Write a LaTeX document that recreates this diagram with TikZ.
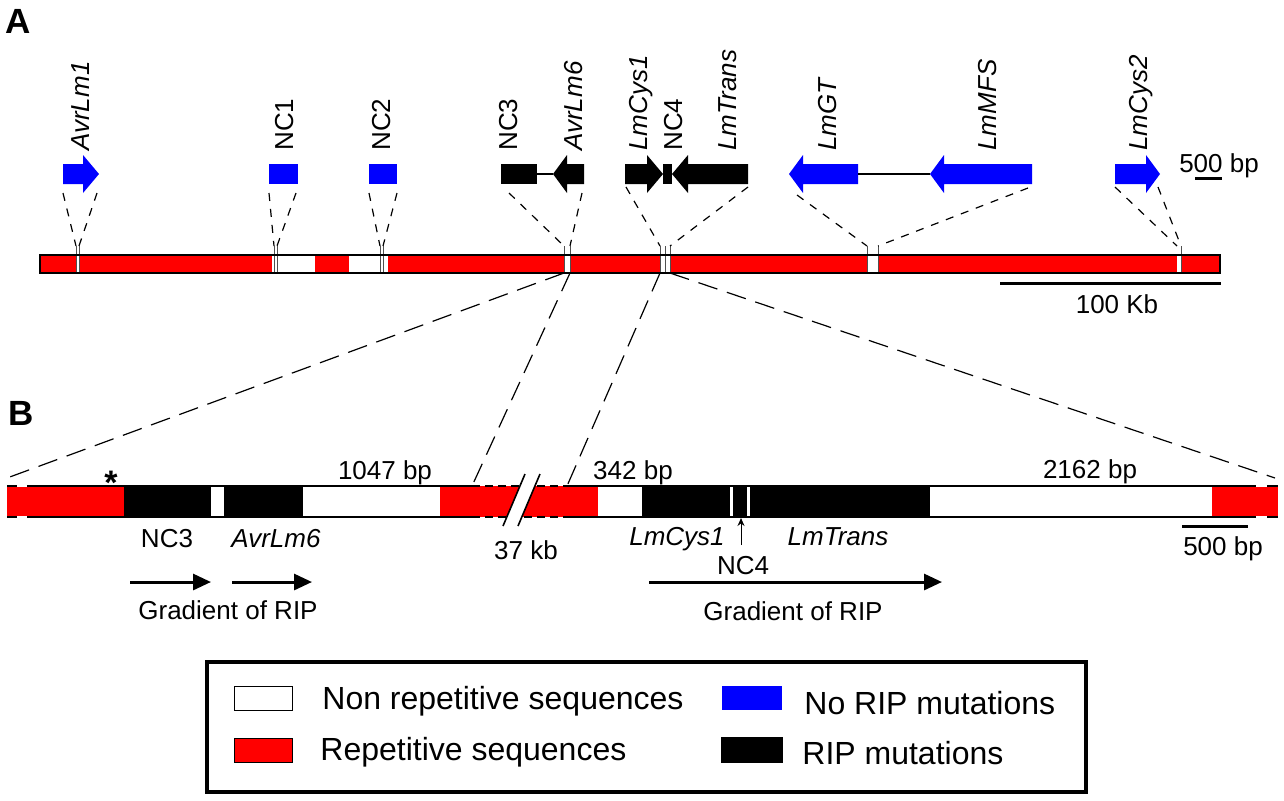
\documentclass[tikz,border=0pt]{standalone}
\usepackage{fontspec}
\setmainfont{Liberation Sans}
\usetikzlibrary{arrows.meta}
\definecolor{rred}{RGB}{255,0,0}
\definecolor{rblue}{RGB}{0,0,255}
\definecolor{mgray}{RGB}{80,80,80}
\newcommand\geneR[4]{\fill[#1] (#2,164) -- (#3,164) -- (#3,155) -- (#4,174) -- (#3,193) -- (#3,184) -- (#2,184) -- cycle;}
\newcommand\geneL[4]{\fill[#1] (#2,174) -- (#3,155) -- (#3,164) -- (#4,164) -- (#4,184) -- (#3,184) -- (#3,193) -- cycle;}
\newcommand\geneB[3]{\fill[#1] (#2,164) rectangle (#3,184);}
\tikzset{
  lbl/.style={font=\fontsize{13}{15}\selectfont, inner sep=0pt, anchor=base},
  ilbl/.style={font=\fontsize{13}{15}\selectfont\itshape, inner sep=0pt, anchor=base},
  vlbl/.style={font=\fontsize{13}{15}\selectfont, inner sep=0pt, rotate=90, anchor=base west},
  ivlbl/.style={font=\fontsize{13}{15}\selectfont\itshape, inner sep=0pt, rotate=90, anchor=base west},
  leg/.style={font=\fontsize{16}{19}\selectfont, inner sep=0pt, anchor=base west},
  panel/.style={font=\fontsize{17.5}{20}\selectfont\bfseries, inner sep=0pt, anchor=base west},
  gdash/.style={line width=0.6pt, dash pattern=on 4pt off 4pt},
  pdash/.style={line width=0.6pt, dash pattern=on 10pt off 5pt},
  mline/.style={mgray, line width=0.5pt},
  grad/.style={line width=1.5pt, -{Triangle[length=9pt,width=8pt]}},
  sbar/.style={line width=1.5pt},
}
\begin{document}
\begin{tikzpicture}[x=0.5pt,y=-0.5pt]
\useasboundingbox (0,0) rectangle (1284,800);
\fill[white] (0,0) rectangle (1284,800);

% ---------------- Panel A ----------------
\node[panel] (lA) at (5,33) {A};

% genes
\geneR{rblue}{63}{83}{99}
\geneB{rblue}{269}{298}
\geneB{rblue}{369}{397}
\geneB{black}{501}{537}
\coordinate (nc3r) at (537,174); \coordinate (av6t) at (553,174);
\draw[line width=1pt] (nc3r) -- (av6t);
\geneL{black}{553}{567}{584}
\geneR{black}{625}{647}{663}
\geneB{black}{663}{672}
\geneL{black}{672}{688}{748}
\geneL{rblue}{789}{803}{858}
\coordinate (gtr) at (858,174); \coordinate (mfst) at (930,174);
\draw[line width=1pt] (gtr) -- (mfst);
\geneL{rblue}{930}{944}{1032}
\geneR{rblue}{1115}{1146}{1160}

% gene labels
\node[ivlbl] (tAvrLm1) at (89,151) {AvrLm1};
\node[vlbl] (tNC1) at (293,151) {NC1};
\node[vlbl] (tNC2) at (390,151) {NC2};
\node[vlbl] (tNC3) at (517,151) {NC3};
\node[ivlbl] (tAvrLm6) at (582,151) {AvrLm6};
\node[ivlbl] (tLmCys1) at (647,151) {LmCys1};
\node[vlbl] (tNC4) at (682,151) {NC4};
\node[ivlbl] (tLmTrans) at (736,151) {LmTrans};
\node[ivlbl] (tLmGT) at (836,151) {LmGT};
\node[ivlbl] (tLmMFS) at (996,151) {LmMFS};
\node[ivlbl] (tLmCys2) at (1147,151) {LmCys2};

% 500 bp scale (A)
\node[lbl] (sA) at (1219,172) {500 bp};
\coordinate (sAa) at (1195,178); \coordinate (sAb) at (1222,178);
\draw[sbar] (sAa) -- (sAb);

% chromosome bar
\fill[rred] (40,255) rectangle (1220,273);
\fill[white] (272,255) rectangle (315,273);
\fill[white] (349,255) rectangle (388,273);
\foreach \a/\b in {76/80, 564/570, 660/670, 867/878, 1177/1181}
  \fill[white] (\a,255) rectangle (\b,273);
\foreach \x in {76,79,274,277,380,383,564,570,660,665,670,867,878,1181}
  \draw[mline] (\x,246) -- (\x,273);

% dashed lines gene -> marker
\foreach \n/\gx/\gy/\mx in {a1/63/193/76, a2/97/193/79, b1/269/193/274, b2/296/193/277,
    c1/369/193/380, c2/397/193/383, d1/509/193/564, d2/582/193/570,
    e1/626/187/660, e2/748/187/670, f1/797/195/867, f2/1028/188/878,
    h1/1115/187/1177, h2/1158/187/1181}{
  \coordinate (g\n) at (\gx,\gy);
  \coordinate (m\n) at (\mx,246);
  \draw[gdash] (g\n) -- (m\n);
}
\draw[line width=0.9pt] (40,255) rectangle (1220,273);

% 100 Kb scale
\coordinate (kA) at (1000,283); \coordinate (kB) at (1221,283);
\draw[sbar] (kA) -- (kB);
\node[lbl] (tKb) at (1117,313) {100 Kb};

% projection lines A -> B
\coordinate (p1a) at (564,273); \coordinate (p1b) at (7,478);
\coordinate (p2a) at (570,273); \coordinate (p2b) at (472,486);
\coordinate (p3a) at (660,273); \coordinate (p3b) at (567,486);
\coordinate (p4a) at (670,273); \coordinate (p4b) at (1275,478);
\draw[pdash] (p1a) -- (p1b);
\draw[pdash] (p2a) -- (p2b);
\draw[pdash] (p3a) -- (p3b);
\draw[pdash] (p4a) -- (p4b);

% ---------------- Panel B ----------------
\node[panel] (lB) at (8,425) {B};

\fill[rred] (7,486) rectangle (124,517);
\fill[black] (124,486) rectangle (211,517);
\fill[black] (224,486) rectangle (303,517);
\fill[rred] (440,486) rectangle (598,517);
\fill[black] (642,486) rectangle (930,517);
\fill[white] (730,486) rectangle (732.5,517);
\fill[white] (747,486) rectangle (749.5,517);
\fill[rred] (1212,486) rectangle (1278,517);
\draw[line width=0.8pt] (7,486) -- (472,486) (567,486) -- (1278,486)
                        (7,517) -- (472,517) (567,517) -- (1278,517);
\draw[line width=0.8pt, dash pattern=on 4pt off 2.5pt] (472,486) -- (567,486) (472,517) -- (567,517);
\draw[white, line width=1.3pt] (17,486) -- (27,486) (17,517) -- (27,517)
                               (1256,486) -- (1267,486) (1256,517) -- (1267,517);
% break
\fill[white] (525,474) -- (540,474) -- (518,526) -- (503,526) -- cycle;
\draw[line width=0.8pt] (525,474) -- (503,526) (540,474) -- (518,526);

% labels B
\node[font=\fontsize{17}{19}\selectfont\bfseries, inner sep=0pt, anchor=base] (ast) at (111,494) {*};
\node[lbl] (t1047) at (385,479) {1047 bp};
\node[lbl] (t342) at (633,479) {342 bp};
\node[lbl] (t2162) at (1090,478) {2162 bp};
\node[lbl] (bNC3) at (167,547) {NC3};
\node[ilbl] (bAvrLm6) at (276,547) {AvrLm6};
\node[lbl] (t37) at (526,559) {37 kb};
\node[ilbl] (bLmCys1) at (677,545) {LmCys1};
\node[ilbl] (bLmTrans) at (838,545) {LmTrans};
\node[lbl] (bNC4) at (743,574) {NC4};
\coordinate (nc4a) at (741,545); \coordinate (nc4b) at (741,518);
\draw[line width=0.5pt, -{Stealth[length=4pt,width=3.5pt]}] (nc4a) -- (nc4b);

% scale bar B
\coordinate (sBa) at (1182,526); \coordinate (sBb) at (1248,526);
\draw[sbar] (sBa) -- (sBb);
\node[lbl] (sB) at (1223,555) {500 bp};

% gradient arrows
\coordinate (ga1) at (130,582); \coordinate (ga2) at (211,582);
\coordinate (gb1) at (232,582); \coordinate (gb2) at (312,582);
\coordinate (gc1) at (649,582); \coordinate (gc2) at (942,582);
\draw[grad] (ga1) -- (ga2);
\draw[grad] (gb1) -- (gb2);
\draw[grad] (gc1) -- (gc2);
\node[lbl] (gr1) at (228,619) {Gradient of RIP};
\node[lbl] (gr2) at (793,620) {Gradient of RIP};

% ---------------- Legend ----------------
\draw[line width=2pt] (207,662) rectangle (1086,792);
\draw[line width=0.5pt, fill=white] (234,686) rectangle (292,710);
\draw[line width=0.5pt, fill=rred] (234,738) rectangle (292,762);
\fill[rblue] (722,686) rectangle (782,710);
\fill[black] (721,737) rectangle (783,763);
\node[leg] (l1) at (322,709) {Non repetitive sequences};
\node[leg] (l2) at (320,760) {Repetitive sequences};
\node[leg] (l3) at (804,714) {No RIP mutations};
\node[leg] (l4) at (802,764) {RIP mutations};
\end{tikzpicture}
\end{document}
